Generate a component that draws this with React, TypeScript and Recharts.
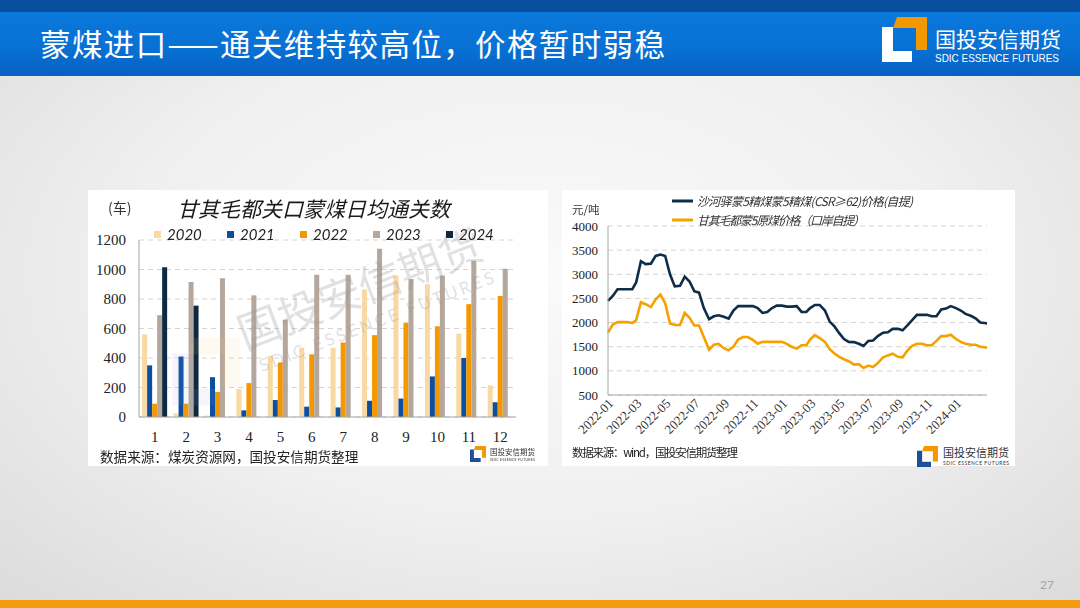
import { Bar, BarChart, CartesianGrid, Line, LineChart, XAxis, YAxis } from 'recharts';

const SERIF = '"Liberation Serif", "Times New Roman", serif';
const CJK = '"Noto Sans CJK SC", "Noto Sans", sans-serif';
const LATIN = 'Lato, "Liberation Sans", sans-serif';

// 甘其毛都关口蒙煤日均通关数 (车)
const months = ['1', '2', '3', '4', '5', '6', '7', '8', '9', '10', '11', '12'];
const years = ['2020', '2021', '2022', '2023', '2024'];
const clear2020 = [560, 25, 10, 190, 415, 470, 470, 865, 960, 900, 565, 215];
const clear2021 = [350, 410, 270, 45, 115, 70, 65, 110, 125, 275, 400, 100];
const clear2022 = [90, 90, 170, 230, 370, 425, 505, 555, 640, 615, 765, 820];
const clear2023 = [690, 915, 940, 825, 660, 965, 965, 1140, 935, 960, 1060, 1005];
const clear2024 = [1015, 755, null, null, null, null, null, null, null, null, null, null];
const barColors = ['#f9d9a3', '#0b4ea2', '#f39800', '#b5a79b', '#0c2a43'];
const barTicks = [0, 200, 400, 600, 800, 1000, 1200];

// 价格 (元/吨)
const priceDates = [
  '2022-01-01', '2022-01-11', '2022-01-21', '2022-02-01', '2022-02-11', '2022-02-21',
  '2022-03-01', '2022-03-11', '2022-03-21', '2022-04-01', '2022-04-11', '2022-04-21',
  '2022-05-01', '2022-05-11', '2022-05-21', '2022-06-01', '2022-06-11', '2022-06-21',
  '2022-07-01', '2022-07-11', '2022-07-21', '2022-08-01', '2022-08-11', '2022-08-21',
  '2022-09-01', '2022-09-11', '2022-09-21', '2022-10-01', '2022-10-11', '2022-10-21',
  '2022-11-01', '2022-11-11', '2022-11-21', '2022-12-01', '2022-12-11', '2022-12-21',
  '2023-01-01', '2023-01-11', '2023-01-21', '2023-02-01', '2023-02-11', '2023-02-21',
  '2023-03-01', '2023-03-11', '2023-03-21', '2023-04-01', '2023-04-11', '2023-04-21',
  '2023-05-01', '2023-05-11', '2023-05-21', '2023-06-01', '2023-06-11', '2023-06-21',
  '2023-07-01', '2023-07-11', '2023-07-21', '2023-08-01', '2023-08-11', '2023-08-21',
  '2023-09-01', '2023-09-11', '2023-09-21', '2023-10-01', '2023-10-11', '2023-10-21',
  '2023-11-01', '2023-11-11', '2023-11-21', '2023-12-01', '2023-12-11', '2023-12-21',
  '2024-01-01', '2024-01-11', '2024-01-21', '2024-02-01', '2024-02-11', '2024-02-21',
  '2024-03-01', '2024-03-06',
];
const shaheyiPrice = [
  2450, 2550, 2690, 2690, 2690, 2690,
  2830, 3270, 3210, 3220, 3380, 3410,
  3380, 3000, 2750, 2760, 2950, 2850,
  2650, 2620, 2300, 2070, 2130, 2150,
  2120, 2080, 2250, 2340, 2340, 2340,
  2340, 2300, 2200, 2220, 2300, 2350,
  2350, 2330, 2330, 2340, 2220, 2220,
  2300, 2365, 2365, 2250, 2020, 1920,
  1780, 1660, 1600, 1596, 1560, 1514,
  1620, 1630, 1720, 1790, 1800, 1870,
  1870, 1840, 1940, 2050, 2160, 2160,
  2160, 2130, 2130, 2270, 2290, 2340,
  2300, 2250, 2180, 2140, 2090, 2000,
  1990, 1980,
];
const ganqimaoduPrice = [
  1790, 1960, 2010, 2010, 2010, 1990,
  2050, 2420, 2380, 2320, 2480, 2580,
  2400, 1980, 1950, 1950, 2200, 2100,
  1940, 1940, 1700, 1440, 1540, 1560,
  1470, 1425, 1500, 1650, 1700, 1700,
  1640, 1560, 1600, 1600, 1600, 1600,
  1600, 1560, 1500, 1460, 1530, 1530,
  1650, 1740, 1680, 1600, 1450, 1360,
  1290, 1240, 1200, 1130, 1140, 1060,
  1110, 1080, 1160, 1280, 1320, 1355,
  1290, 1280, 1420, 1520, 1560, 1560,
  1530, 1530, 1620, 1720, 1720, 1750,
  1660, 1600, 1560, 1540, 1540, 1500,
  1490, 1480,
];
const tickMonths = [
  '2022-01', '2022-03', '2022-05', '2022-07', '2022-09', '2022-11',
  '2023-01', '2023-03', '2023-05', '2023-07', '2023-09', '2023-11', '2024-01',
];
const priceTicks = [500, 1000, 1500, 2000, 2500, 3000, 3500, 4000];

const toTime = (d: string) => Date.parse(d + 'T00:00:00Z');

const barData = months.map((m, i) => ({
  month: m,
  y2020: clear2020[i],
  y2021: clear2021[i],
  y2022: clear2022[i],
  y2023: clear2023[i],
  y2024: clear2024[i],
}));

const lineData = priceDates.map((d, i) => ({
  t: toTime(d),
  shahe: shaheyiPrice[i],
  ganqi: ganqimaoduPrice[i],
}));

const DateTick = (props: any) => {
  const { x, y, payload } = props;
  const d = new Date(payload.value);
  const label = `${d.getUTCFullYear()}-${String(d.getUTCMonth() + 1).padStart(2, '0')}`;
  return (
    <text
      x={x + 3}
      y={y}
      dy="0.35em"
      textAnchor="end"
      transform={`rotate(-45 ${x + 3} ${y})`}
      fontFamily={SERIF}
      fontSize={13}
      fill="#333"
    >
      {label}
    </text>
  );
};

const Logo = ({ x, y, s, lColor }: { x: number; y: number; s: number; lColor: string }) => (
  <g transform={`translate(${x},${y}) scale(${s / 45})`}>
    <polygon points="0,10 11,10 11,34 30,34 30,45 0,45" fill={lColor} />
    <polygon points="15,0 45,0 45,33 34,33 34,11 11,11" fill="#f39800" />
  </g>
);

export default function App() {
  return (
    <div
      style={{
        position: 'absolute',
        left: 0,
        top: 0,
        width: 1080,
        height: 608,
        overflow: 'hidden',
        fontFamily: CJK,
        background: 'radial-gradient(ellipse 75% 80% at 50% 45%, #fafafa 0%, #f0f0f0 50%, #d9d9d9 100%)',
      }}
    >
      <div style={{ position: 'absolute', left: 0, top: 0, width: 1080, height: 12, background: '#0a4f9d' }} />
      <div
        style={{
          position: 'absolute',
          left: 0,
          top: 12,
          width: 1080,
          height: 64,
          background: 'linear-gradient(180deg, #0a78dc 0%, #0870d3 60%, #0660c2 100%)',
        }}
      />
      <div style={{ position: 'absolute', left: 0, top: 600, width: 1080, height: 8, background: '#f39c12' }} />

      <div style={{ position: 'absolute', left: 88, top: 190, width: 460, height: 276, background: '#fff' }}>
        <BarChart
          width={460}
          height={276}
          data={barData}
          margin={{ top: 50, right: 32, left: 0, bottom: 0 }}
          barCategoryGap="10%"
          barGap={0}
        >
          <CartesianGrid vertical={false} stroke="#d4d4d4" strokeDasharray="5 4" />
          <XAxis
            dataKey="month"
            height={49}
            interval={0}
            tickLine={false}
            tickSize={6}
            tickMargin={8}
            axisLine={{ stroke: '#a6a6a6' }}
            tick={{ fontFamily: SERIF, fontSize: 15, fill: '#222' }}
          />
          <YAxis
            domain={[0, 1200]}
            ticks={barTicks}
            width={51}
            tickLine={false}
            tickSize={6}
            tickMargin={7}
            axisLine={{ stroke: '#a6a6a6' }}
            tick={{ fontFamily: SERIF, fontSize: 15, fill: '#222' }}
          />
          {years.map((yr, i) => (
            <Bar key={yr} dataKey={`y${yr}`} name={yr} fill={barColors[i]} isAnimationActive={false} />
          ))}
        </BarChart>
      </div>

      <div style={{ position: 'absolute', left: 562, top: 190, width: 453, height: 276, background: '#fff' }}>
        <LineChart width={453} height={276} data={lineData} margin={{ top: 36, right: 28, left: 0, bottom: 0 }}>
          <CartesianGrid vertical={false} stroke="#d4d4d4" strokeDasharray="5 4" />
          <XAxis
            dataKey="t"
            type="number"
            scale="time"
            domain={[toTime('2022-01-01'), toTime('2024-03-06')]}
            ticks={tickMonths.map((m) => toTime(m + '-01'))}
            height={71}
            interval={0}
            tickLine={false}
            tickSize={2}
            tickMargin={4}
            axisLine={{ stroke: '#a6a6a6' }}
            tick={<DateTick />}
          />
          <YAxis
            domain={[500, 4000]}
            ticks={priceTicks}
            width={46}
            tickLine={false}
            tickSize={6}
            tickMargin={4}
            axisLine={{ stroke: '#a6a6a6' }}
            tick={{ fontFamily: SERIF, fontSize: 13, fill: '#222' }}
          />
          <Line
            type="linear"
            dataKey="shahe"
            stroke="#0f2c48"
            strokeWidth={2.6}
            dot={false}
            isAnimationActive={false}
          />
          <Line
            type="linear"
            dataKey="ganqi"
            stroke="#f5a100"
            strokeWidth={2.6}
            dot={false}
            isAnimationActive={false}
          />
        </LineChart>
      </div>

      <svg
        width={1080}
        height={608}
        style={{ position: 'absolute', left: 0, top: 0, pointerEvents: 'none' }}
      >
        {/* header */}
        <text x={40} y={56} fontSize={30.5} fill="#fff" textLength={625} fontFamily={CJK}>
          蒙煤进口——通关维持较高位，价格暂时弱稳
        </text>
        <Logo x={882} y={17} s={45} lColor="#ffffff" />
        <text x={935} y={47} fontSize={21} fill="#fff" textLength={126} fontFamily={CJK}>
          国投安信期货
        </text>
        <text
          x={935}
          y={62}
          fontSize={11.5}
          fill="#fff"
          textLength={124}
          lengthAdjust="spacingAndGlyphs"
          fontFamily={'"Liberation Sans Narrow", "Liberation Sans", sans-serif'}
        >
          SDIC ESSENCE FUTURES
        </text>

        {/* left chart: watermark */}
        <g opacity={0.3}>
          <g transform="translate(172,338) scale(1.5)" opacity={0.35}>
            <polygon points="0,10 11,10 11,34 30,34 30,45 0,45" fill="#8fa9d6" />
            <polygon points="15,0 45,0 45,33 34,33 34,11 11,11" fill="#f7c878" />
          </g>
          <text x={245} y={350} fontSize={43} fill="#9a9a9a" transform="rotate(-21 245 350)" fontFamily={CJK}>
            国投安信期货
          </text>
          <text
            x={262}
            y={372}
            fontSize={17}
            fill="#9a9a9a"
            textLength={250}
            transform="rotate(-21 262 372)"
            fontFamily={LATIN}
          >
            SDIC ESSENCE FUTURES
          </text>
        </g>

        {/* left chart: titles & legend */}
        <text x={108} y={213} fontSize={14} fill="#333" fontFamily={CJK}>
          (车)
        </text>
        <text x={177} y={217} fontSize={21} fill="#1a1a1a" fontStyle="italic" textLength={273} fontFamily={CJK}>
          甘其毛都关口蒙煤日均通关数
        </text>
        {years.map((yr, i) => (
          <g key={yr}>
            <rect x={154 + i * 73} y={231} width={7} height={7} fill={barColors[i]} />
            <text x={167 + i * 73} y={239.5} fontSize={15} fill="#222" fontStyle="italic" fontFamily={LATIN}>
              {yr}
            </text>
          </g>
        ))}
        <text x={100} y={462} fontSize={13.6} fill="#222" fontFamily={CJK}>
          数据来源：煤炭资源网，国投安信期货整理
        </text>
        <Logo x={470} y={446} s={16} lColor="#1d4f9c" />
        <text x={490} y={455} fontSize={7.5} fill="#333" textLength={45} fontFamily={CJK}>
          国投安信期货
        </text>
        <text x={490} y={461} fontSize={3.5} fill="#333" textLength={45} fontFamily={LATIN}>
          SDIC ESSENCE FUTURES
        </text>

        {/* right chart: legend, unit, source */}
        <line x1={672} y1={201} x2={693} y2={201} stroke="#0f2c48" strokeWidth={3} />
        <text x={697} y={205.5} fontSize={12} fill="#333" fontStyle="italic" textLength={216} fontFamily={CJK}>
          沙河驿蒙5精煤蒙5精煤(CSR≥62)价格(自提)
        </text>
        <line x1={672} y1={220} x2={693} y2={220} stroke="#f5a100" strokeWidth={3} />
        <text x={697} y={224.5} fontSize={12} fill="#333" fontStyle="italic" textLength={168} fontFamily={CJK}>
          甘其毛都蒙5原煤价格（口岸自提）
        </text>
        <text x={572} y={214} fontSize={11.5} fill="#333" fontFamily={CJK}>
          元/吨
        </text>
        <text x={572} y={457} fontSize={11.5} fill="#222" textLength={166} fontFamily={CJK}>
          数据来源：wind，国投安信期货整理
        </text>
        <Logo x={917} y={446} s={21} lColor="#1d4f9c" />
        <text x={943} y={457} fontSize={11} fill="#333" textLength={66} fontFamily={CJK}>
          国投安信期货
        </text>
        <text x={943} y={465} fontSize={5} fill="#333" textLength={66} fontFamily={LATIN}>
          SDIC ESSENCE FUTURES
        </text>

        <text x={1040} y={589} fontSize={12} fill="#a6a6a6" fontFamily={LATIN}>
          27
        </text>
      </svg>
    </div>
  );
}
